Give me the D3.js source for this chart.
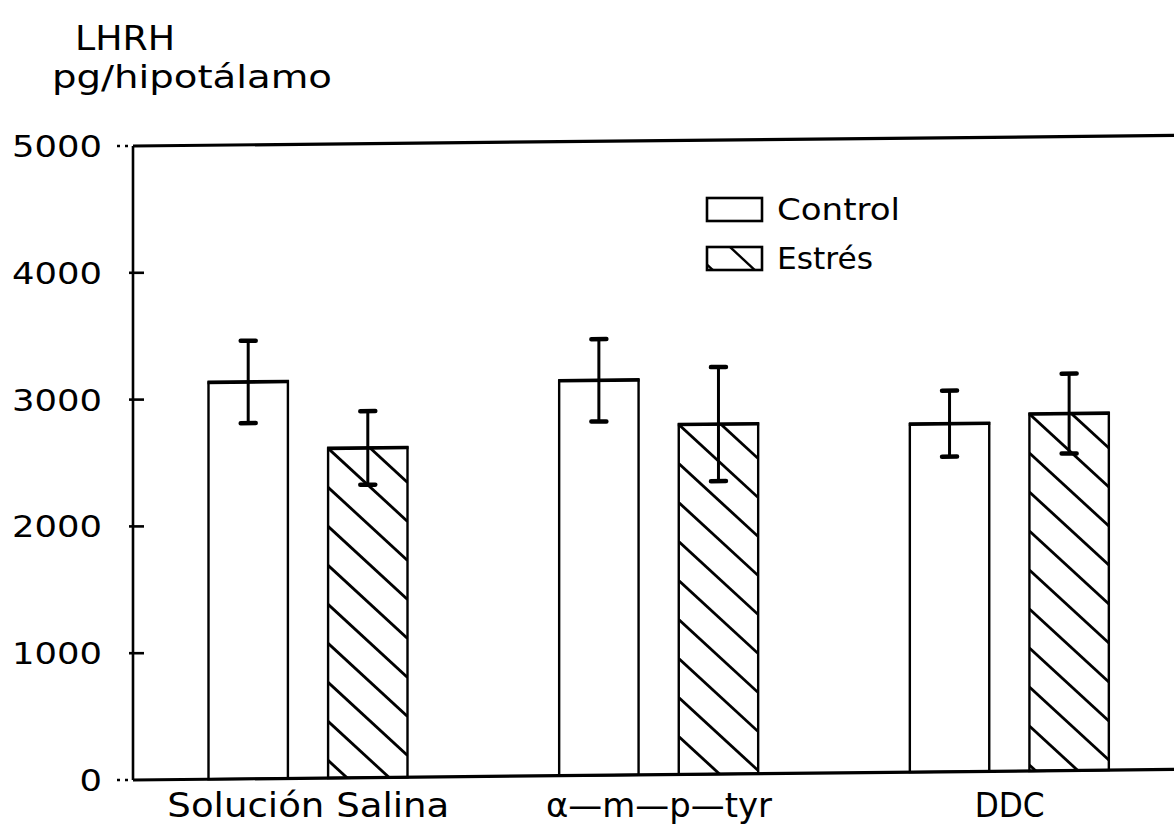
<!DOCTYPE html>
<html>
<head>
<meta charset="utf-8">
<script src="https://cdn.jsdelivr.net/npm/d3@7/dist/d3.min.js"></script>
<style>
  html, body { margin: 0; padding: 0; background: #fff; }
  svg { display: block; }
  text { font-family: "DejaVu Sans", sans-serif; fill: #000; }
</style>
</head>
<body>
<svg id="chart" width="1174" height="832"></svg>
<script>
// ---- data ----
const categories = ["Solución Salina", "α—m—p—tyr", "DDC"];
const series = ["Control", "Estrés"];
const controlValues = [3130, 3115, 2745];
const estresValues  = [2600, 2760, 2815];
const controlErrors = [325, 325, 260];
const estresErrors  = [290, 450, 315];
const yTicks = [0, 1000, 2000, 3000, 4000, 5000];
const titleLines = ["LHRH", "pg/hipotálamo"];

// ---- layout ----
const W = 1174, H = 832;
const axisX = 133;
const svg = d3.select("#chart");

const y = d3.scaleLinear().domain([0, 5000]).range([780, 146]);
const x0 = d3.scaleBand().domain(categories).range([axisX, 1185]).padding(0);
const x1 = d3.scaleBand().domain(series).range([75.5, 274.5]).paddingInner(0.336).paddingOuter(0);

const data = [];
categories.forEach((c, i) => {
  data.push({cat: c, s: "Control", v: controlValues[i], e: controlErrors[i]});
  data.push({cat: c, s: "Estrés", v: estresValues[i], e: estresErrors[i]});
});

// skewed plot group (scan distortion)
const skewDeg = -0.58;
const t = Math.tan(skewDeg * Math.PI / 180);
const plot = svg.append("g")
  .attr("transform", `translate(0,${-axisX * t}) skewY(${skewDeg})`);

const defs = svg.append("defs");

// frame lines
plot.append("line").attr("x1", axisX).attr("x2", W + 20)
  .attr("y1", y(5000)).attr("y2", y(5000))
  .attr("stroke", "#000").attr("stroke-width", 3.2);
plot.append("line").attr("x1", axisX).attr("x2", W + 20)
  .attr("y1", y(0)).attr("y2", y(0))
  .attr("stroke", "#000").attr("stroke-width", 3.2);

// hatch helper
const slope = 0.93, spacing = 39;
function hatch(g, id, bx, by, bw, bh, anchorX, sw) {
  defs.append("clipPath").attr("id", id)
    .append("rect").attr("x", bx).attr("y", by).attr("width", bw).attr("height", bh);
  const hg = g.append("g").attr("clip-path", `url(#${id})`);
  const yl0 = by - (anchorX - bx) * slope;
  const kMin = Math.floor((by - bw * slope - yl0) / spacing) - 1;
  const kMax = Math.ceil((by + bh - yl0) / spacing) + 1;
  for (let k = kMin; k <= kMax; k++) {
    const yl = yl0 + k * spacing;
    hg.append("line").attr("x1", bx).attr("y1", yl)
      .attr("x2", bx + bw).attr("y2", yl + bw * slope)
      .attr("stroke", "#000").attr("stroke-width", sw);
  }
}

// bars
data.forEach((d, i) => {
  const bx = x0(d.cat) + x1(d.s);
  const bw = x1.bandwidth();
  const by = y(d.v);
  const bh = y(0) - y(d.v);
  if (d.s === "Estrés") hatch(plot, "hb" + i, bx, by, bw, bh, bx, 2.8);
  plot.append("rect").attr("x", bx).attr("y", by).attr("width", bw).attr("height", bh)
    .attr("fill", "none").attr("stroke", "#000").attr("stroke-width", 2.4);
  plot.append("line").attr("x1", bx - 1).attr("x2", bx + bw + 1)
    .attr("y1", by).attr("y2", by).attr("stroke", "#000").attr("stroke-width", 3.6);
  // error bar
  const cx = bx + bw / 2;
  plot.append("line").attr("x1", cx).attr("x2", cx)
    .attr("y1", y(d.v + d.e)).attr("y2", y(d.v - d.e))
    .attr("stroke", "#000").attr("stroke-width", 3);
  [d.v + d.e, d.v - d.e].forEach(v => {
    plot.append("line").attr("x1", cx - 7.5).attr("x2", cx + 7.5)
      .attr("y1", y(v)).attr("y2", y(v))
      .attr("stroke", "#000").attr("stroke-width", 4.5).attr("stroke-linecap", "round");
  });
});

// y axis
svg.append("line").attr("x1", axisX).attr("x2", axisX)
  .attr("y1", y(5000)).attr("y2", y(0)).attr("stroke", "#000").attr("stroke-width", 2.6);
const yAxis = svg.append("g");
yTicks.forEach(v => {
  const end = (v === 0 || v === 5000);
  yAxis.append("line")
    .attr("x1", end ? axisX - 16 : axisX - 4).attr("x2", end ? axisX : axisX + 11)
    .attr("y1", y(v)).attr("y2", y(v))
    .attr("stroke", "#000").attr("stroke-width", 2.6)
    .attr("stroke-dasharray", end ? "3,5" : null);
  const label = d3.format("d")(v);
  yAxis.append("text")
    .attr("x", 102).attr("y", y(v) + 11)
    .attr("text-anchor", "end")
    .attr("font-size", 30)
    .attr("textLength", label.length * 22.5)
    .attr("lengthAdjust", "spacingAndGlyphs")
    .text(label);
});

// title
svg.append("text").attr("x", 75).attr("y", 50).attr("font-size", 34)
  .attr("textLength", 100).attr("lengthAdjust", "spacingAndGlyphs").text(titleLines[0]);
svg.append("text").attr("x", 52).attr("y", 88).attr("font-size", 32)
  .attr("textLength", 280).attr("lengthAdjust", "spacingAndGlyphs").text(titleLines[1]);

// category labels
const catWidths = {"Solución Salina": 282, "α—m—p—tyr": 226, "DDC": 70};
categories.forEach(c => {
  svg.append("text")
    .attr("x", x0(c) + x0.bandwidth() / 2).attr("y", 817)
    .attr("text-anchor", "middle").attr("font-size", 33)
    .attr("textLength", catWidths[c]).attr("lengthAdjust", "spacingAndGlyphs")
    .text(c);
});

// legend
const legend = svg.append("g");
const legY = [198, 247];
const legW = [123, 96];
series.forEach((s, i) => {
  const bx = 707, by = legY[i], bw = 55, bh = 23;
  if (s === "Estrés") hatch(legend, "lh" + i, bx, by, bw, bh, 730, 2.4);
  legend.append("rect").attr("x", bx).attr("y", by).attr("width", bw).attr("height", bh)
    .attr("fill", "none").attr("stroke", "#000").attr("stroke-width", 2.6);
  legend.append("text").attr("x", 777).attr("y", by + 22).attr("font-size", 30)
    .attr("textLength", legW[i]).attr("lengthAdjust", "spacingAndGlyphs").text(s);
});
</script>
</body>
</html>
